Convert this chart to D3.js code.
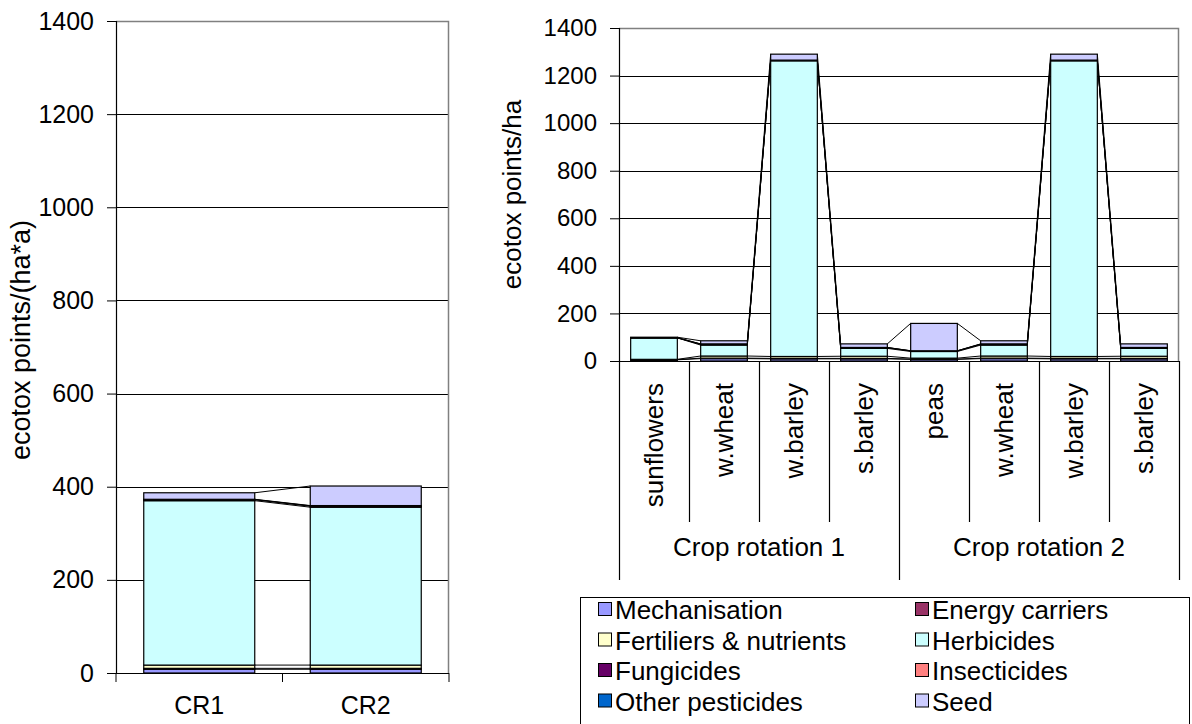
<!DOCTYPE html>
<html>
<head>
<meta charset="utf-8">
<script src="https://cdn.jsdelivr.net/npm/d3@7"></script>
<style>
  html, body { margin: 0; padding: 0; background: #fff; }
  svg { display: block; font-family: "Liberation Sans", Arial, sans-serif; }
</style>
</head>
<body>
<svg id="chart" width="1192" height="724"></svg>
<script>
// Impact categories (stack order, bottom to top)
const seriesNames = ["Mechanisation", "Energy carriers", "Fertiliers & nutrients", "Herbicides",
                     "Fungicides", "Insecticides", "Other pesticides", "Seed"];
const seriesColors = ["#9999FF", "#993366", "#FFFFCC", "#CCFFFF",
                      "#660066", "#FF8080", "#0066CC", "#CCCCFF"];

// Left chart: per-year average of each crop rotation, ecotox points/(ha*a)
const rotationLabels = ["CR1", "CR2"];
const mechanisationCR   = [8, 8];
const energyCR          = [2, 2];
const fertilisersCR     = [7, 7];
const herbicidesCR      = [353, 339];
const fungicidesCR      = [2, 2];
const insecticidesCR    = [0.5, 1];
const otherPesticidesCR = [0.5, 0.5];
const seedCR            = [14, 42];

// Right chart: per crop, ecotox points/ha
const cropLabels = ["sunflowers", "w.wheat", "w.barley", "s.barley",
                    "peas", "w.wheat", "w.barley", "s.barley"];
const groupLabels = ["Crop rotation 1", "Crop rotation 2"];
const cropsPerGroup = 4;
const mechanisationCrop   = [5, 10, 9, 9, 7, 10, 9, 9];
const energyCrop          = [1, 2, 2, 2, 1, 2, 2, 2];
const fertilisersCrop     = [1, 9, 8, 9, 4, 9, 8, 9];
const herbicidesCrop      = [90, 46, 1243, 33, 28, 46, 1243, 33];
const fungicidesCrop      = [0.5, 3, 2, 3, 2, 3, 2, 3];
const insecticidesCrop    = [0.3, 1, 0.5, 0.5, 1, 1, 0.5, 0.5];
const otherPesticidesCrop = [0.2, 1, 0.5, 0.5, 0, 1, 0.5, 0.5];
const seedCrop            = [2, 13, 25, 15, 115, 13, 25, 15];

const yTicks = [0, 200, 400, 600, 800, 1000, 1200, 1400];

function buildRows(labels, cols) {
  return labels.map((lab, i) => {
    const row = { label: lab, idx: i };
    seriesNames.forEach((s, k) => { row[s] = cols[k][i]; });
    return row;
  });
}

const rotationRows = buildRows(rotationLabels,
  [mechanisationCR, energyCR, fertilisersCR, herbicidesCR, fungicidesCR, insecticidesCR, otherPesticidesCR, seedCR]);
const cropRows = buildRows(cropLabels,
  [mechanisationCrop, energyCrop, fertilisersCrop, herbicidesCrop, fungicidesCrop, insecticidesCrop, otherPesticidesCrop, seedCrop]);

const svg = d3.select("#chart");

function stackedPanel(g, rows, box, tickFont) {
  const x = d3.scaleBand().domain(rows.map(r => r.idx)).range([box.x0, box.x1])
              .paddingInner(1 / 3).paddingOuter(1 / 6);
  const y = d3.scaleLinear().domain([0, 1400]).range([box.yBot, box.yTop]);
  const stacked = d3.stack().keys(seriesNames)(rows);

  // horizontal gridlines
  g.append("g").selectAll("line").data(yTicks.filter(t => t > 0 && t < 1400)).join("line")
    .attr("x1", box.x0).attr("x2", box.x1)
    .attr("y1", d => Math.round(y(d)) + 0.5).attr("y2", d => Math.round(y(d)) + 0.5)
    .attr("stroke", "#000").attr("stroke-width", 1);

  // plot-area frame (top and right)
  g.append("path")
    .attr("d", `M${box.x0},${Math.round(y(1400)) + 0.5}H${box.x1 - 0.5}V${box.yBot}`)
    .attr("fill", "none").attr("stroke", "#808080").attr("stroke-width", 1.5);

  // series lines joining the layer tops of neighbouring columns
  const bw = x.bandwidth();
  const seriesLines = [];
  stacked.forEach(layer => {
    for (let i = 0; i < rows.length - 1; i++) {
      seriesLines.push({
        x1: x(i) + bw, y1: y(layer[i][1]),
        x2: x(i + 1), y2: y(layer[i + 1][1])
      });
    }
  });
  g.append("g").selectAll("line").data(seriesLines).join("line")
    .attr("x1", d => d.x1).attr("y1", d => d.y1)
    .attr("x2", d => d.x2).attr("y2", d => d.y2)
    .attr("stroke", "#000").attr("stroke-width", 1);

  // stacked columns
  g.append("g").selectAll("g").data(stacked).join("g")
    .attr("fill", (d, k) => seriesColors[k])
    .selectAll("rect").data(d => d).join("rect")
    .attr("x", d => x(d.data.idx))
    .attr("width", bw)
    .attr("y", d => y(d[1]))
    .attr("height", d => Math.max(0, y(d[0]) - y(d[1])))
    .attr("stroke", "#000").attr("stroke-width", 1.2);

  // value axis
  const yAxis = d3.axisLeft(y).tickValues(yTicks).tickFormat(d3.format("d"))
                  .tickSize(9).tickPadding(13);
  const ya = g.append("g").attr("transform", `translate(${box.x0},0)`).call(yAxis);
  ya.select(".domain").attr("stroke", "#000").attr("stroke-width", 1.2);
  ya.selectAll(".tick line").attr("stroke", "#000");
  ya.selectAll("text").attr("font-size", tickFont).attr("fill", "#000")
    .attr("font-family", "Liberation Sans, Arial, sans-serif");

  // category axis baseline
  g.append("line").attr("x1", box.x0).attr("x2", box.x1)
    .attr("y1", box.yBot + 0.5).attr("y2", box.yBot + 0.5)
    .attr("stroke", "#000").attr("stroke-width", 1.2);

  return { x, y };
}

// ---------- left chart ----------
const leftBox = { x0: 116, x1: 449, yTop: 21, yBot: 673 };
const gl = svg.append("g");
const L = stackedPanel(gl, rotationRows, leftBox, 25);
const stepL = L.x.step();
const boundsL = d3.range(rotationRows.length + 1).map(i => leftBox.x0 + i * stepL);
gl.append("g").selectAll("line").data(boundsL).join("line")
  .attr("x1", d => d).attr("x2", d => d)
  .attr("y1", leftBox.yBot).attr("y2", leftBox.yBot + 9)
  .attr("stroke", "#000");
gl.append("g").selectAll("text").data(rotationRows).join("text")
  .attr("x", d => L.x(d.idx) + L.x.bandwidth() / 2)
  .attr("y", 705)
  .attr("text-anchor", "middle").attr("dominant-baseline", "central")
  .attr("font-size", 25).text(d => d.label);
gl.append("text")
  .attr("transform", `translate(21,340) rotate(-90)`)
  .attr("text-anchor", "middle").attr("dominant-baseline", "central")
  .attr("font-size", 27).text("ecotox points/(ha*a)");

// ---------- right chart ----------
const rightBox = { x0: 619, x1: 1179, yTop: 28, yBot: 361 };
const gr = svg.append("g");
const R = stackedPanel(gr, cropRows, rightBox, 24);
const stepR = R.x.step();
const boundsR = d3.range(cropRows.length + 1).map(i => rightBox.x0 + i * stepR);
gr.append("g").selectAll("line").data(boundsR).join("line")
  .attr("x1", d => Math.round(d) + 0.5).attr("x2", d => Math.round(d) + 0.5)
  .attr("y1", rightBox.yBot)
  .attr("y2", (d, i) => (i % cropsPerGroup === 0) ? 580 : 522)
  .attr("stroke", "#000").attr("stroke-width", 1.2);
gr.append("g").selectAll("text").data(cropRows).join("text")
  .attr("transform", d => `translate(${R.x(d.idx) + R.x.bandwidth() / 2},383) rotate(-90)`)
  .attr("text-anchor", "end").attr("dominant-baseline", "central")
  .attr("font-size", 26).text(d => d.label);
gr.append("g").selectAll("text").data(groupLabels).join("text")
  .attr("x", (d, i) => rightBox.x0 + (i + 0.5) * cropsPerGroup * stepR)
  .attr("y", 547)
  .attr("text-anchor", "middle").attr("dominant-baseline", "central")
  .attr("font-size", 26).text(d => d);
gr.append("text")
  .attr("transform", `translate(512,${(rightBox.yTop + rightBox.yBot) / 2}) rotate(-90)`)
  .attr("text-anchor", "middle").attr("dominant-baseline", "central")
  .attr("font-size", 26).text("ecotox points/ha");

// ---------- legend ----------
const legend = svg.append("g");
legend.append("rect").attr("x", 580.5).attr("y", 597.5).attr("width", 609).attr("height", 140)
  .attr("fill", "#fff").attr("stroke", "#000").attr("stroke-width", 1);
const legendOrder = [0, 1, 2, 3, 4, 5, 6, 7];
const items = legend.selectAll("g.item").data(legendOrder).join("g").attr("class", "item")
  .attr("transform", k => `translate(${k % 2 === 0 ? 598 : 915},${609 + Math.floor(k / 2) * 30.5})`);
items.append("rect").attr("x", 0.5).attr("y", -6.5).attr("width", 13).attr("height", 13)
  .attr("fill", k => seriesColors[k]).attr("stroke", "#000").attr("stroke-width", 1);
items.append("text").attr("x", 17).attr("y", 1).attr("dominant-baseline", "central")
  .attr("font-size", 26).text(k => seriesNames[k]);
</script>
</body>
</html>
